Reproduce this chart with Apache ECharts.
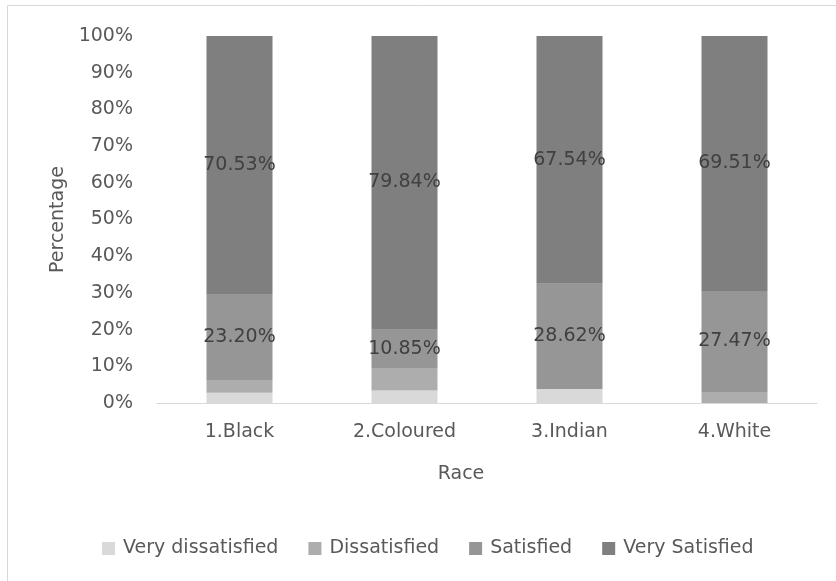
<!DOCTYPE html>
<html>
<head>
<meta charset="utf-8">
<script src="https://cdn.jsdelivr.net/npm/echarts@6/dist/echarts.min.js"></script>
<style>
  html, body { margin: 0; padding: 0; background: #fff; }
  #chart { width: 836px; height: 581px; }
</style>
</head>
<body>
<div id="chart"></div>
<script>
// Satisfaction by race, stacked to 100%
const categories = ['1.Black', '2.Coloured', '3.Indian', '4.White'];
const seriesNames = ['Very dissatisfied', 'Dissatisfied', 'Satisfied', 'Very Satisfied'];
const veryDissatisfied = [2.80, 3.40, 3.84, 0];
const dissatisfied = [3.47, 5.91, 0, 3.02];
const satisfied = [23.20, 10.85, 28.62, 27.47];
const verySatisfied = [70.53, 79.84, 67.54, 69.51];
const yTicks = [0, 10, 20, 30, 40, 50, 60, 70, 80, 90, 100];

const colors = ['#d9d9d9', '#adadad', '#969696', '#7f7f7f'];
const FONT = 'DejaVu Sans';
const TEXT = '#595959';

const values = [veryDissatisfied, dissatisfied, satisfied, verySatisfied];
const labelled = [false, false, true, true];

const chart = echarts.init(document.getElementById('chart'), null, { renderer: 'canvas' });
chart.setOption({
  animation: false,
  backgroundColor: '#ffffff',
  color: colors,
  textStyle: { fontFamily: FONT },
  graphic: [{
    type: 'rect',
    shape: { x: 7.5, y: 5.5, width: 840, height: 600 },
    style: { fill: 'none', stroke: '#d9d9d9', lineWidth: 1 },
    silent: true
  }],
  grid: { left: 157, right: 19, top: 36, bottom: 178 },
  legend: {
    left: 97,
    top: 534,
    itemWidth: 13,
    itemHeight: 13,
    itemGap: 30,
    icon: 'rect',
    data: seriesNames,
    textStyle: { fontFamily: FONT, fontSize: 19, color: TEXT, padding: [0, 0, 0, 3] }
  },
  xAxis: {
    type: 'category',
    data: categories,
    name: 'Race',
    nameLocation: 'middle',
    nameGap: 62,
    nameTextStyle: { fontFamily: FONT, fontSize: 19, color: TEXT, padding: [0, 52, 0, 0] },
    axisLine: { lineStyle: { color: '#d9d9d9', width: 1 } },
    axisTick: { show: false },
    axisLabel: { fontFamily: FONT, fontSize: 19, color: TEXT, margin: 20 }
  },
  yAxis: {
    type: 'value',
    min: yTicks[0],
    max: yTicks[yTicks.length - 1],
    interval: 10,
    name: 'Percentage',
    nameLocation: 'middle',
    nameGap: 88,
    nameTextStyle: { fontFamily: FONT, fontSize: 19, color: TEXT },
    splitLine: { show: false },
    axisLine: { show: false },
    axisTick: { show: false },
    axisLabel: { fontFamily: FONT, fontSize: 19, color: TEXT, margin: 24, formatter: v => v + '%' }
  },
  series: seriesNames.map((name, i) => ({
    name: name,
    type: 'bar',
    stack: 'total',
    barWidth: '40%',
    data: values[i],
    itemStyle: { color: colors[i] },
    label: {
      show: labelled[i],
      position: 'inside',
      fontFamily: FONT,
      fontSize: 19,
      color: '#404040',
      formatter: p => p.value.toFixed(2) + '%'
    }
  }))
});
</script>
</body>
</html>
